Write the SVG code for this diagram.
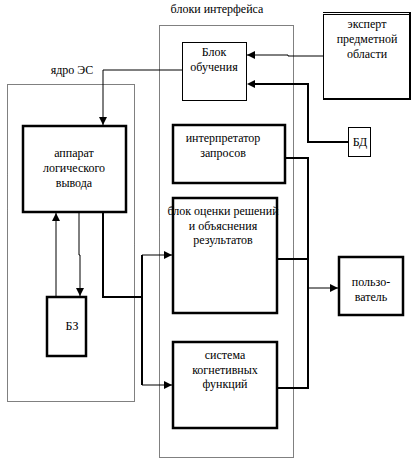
<svg xmlns="http://www.w3.org/2000/svg" width="416" height="462" viewBox="0 0 416 462">
<defs>
<style>
text{font-family:"Liberation Serif","DejaVu Serif","Times New Roman",serif;font-size:12px;fill:#000;text-anchor:middle}
.thin{fill:#fff;stroke:#000;stroke-width:1}
.thick{fill:#fff;stroke:#000;stroke-width:2.5}
.dot{fill:none;stroke:#000;stroke-width:1;stroke-dasharray:1 1}
.ln{fill:none;stroke:#000;stroke-width:1}
.lnb{fill:none;stroke:#000;stroke-width:2}
</style>
<marker id="ah" viewBox="0 0 8 8" refX="8" refY="4" markerWidth="8" markerHeight="8" markerUnits="userSpaceOnUse" orient="auto">
<path d="M0,0 L8,4 L0,8 Z" fill="#000"/>
</marker>
</defs>
<rect width="416" height="462" fill="#fff"/>
<g id="frames">
<rect class="dot" x="7.5" y="84.5" width="127" height="317"/>
<rect class="dot" x="159.5" y="25.5" width="134" height="432"/>
<text x="217" y="13" font-family="Liberation Serif, serif">блоки интерфейса</text>
<text x="72" y="74" font-family="Liberation Serif, serif">ядро ЭС</text>
</g>
<g id="connectors">
<polyline class="ln" points="182,70 103,70 103,125" marker-end="url(#ah)"/>
<polyline class="ln" points="323,56 288,56 288,55 247,55" marker-end="url(#ah)"/>
<polyline class="lnb" points="348,142 308,142 308,84 254,84"/>
<path d="M247,84 L255,80 L255,88 Z" fill="#000"/>
<line class="ln" x1="56" y1="297" x2="56" y2="213" marker-end="url(#ah)"/>
<polyline class="ln" points="79,213 79,255 80,255 80,296" marker-end="url(#ah)"/>
<polyline class="lnb" points="103,213 103,297 142,297"/>
<polyline class="lnb" points="142,255 142,385"/>
<line class="ln" x1="142" y1="255" x2="172" y2="255" marker-end="url(#ah)"/>
<line class="ln" x1="142" y1="385" x2="172" y2="385" marker-end="url(#ah)"/>
<polyline class="lnb" points="286,158 308,158 308,388 278,388"/>
<line class="lnb" x1="278" y1="259" x2="308" y2="259"/>
<line class="ln" x1="308" y1="288" x2="338" y2="288" marker-end="url(#ah)"/>
</g>
<g id="blok-obucheniya">
<rect class="thin" x="182.5" y="42.5" width="64" height="58"/>
<text x="214" y="56">Блок</text>
<text x="214" y="71">обучения</text>
</g>
<g id="ekspert">
<rect class="thin" x="323.5" y="14.5" width="87" height="85"/>
<line class="ln" x1="323" y1="12.5" x2="411" y2="12.5"/>
<line class="lnb" x1="410" y1="12" x2="410" y2="100"/>
<line class="lnb" x1="323" y1="99" x2="411" y2="99"/>
<text x="367" y="28">эксперт</text>
<text x="367" y="43">предметной</text>
<text x="367" y="58">области</text>
</g>
<g id="bd">
<rect class="thin" x="348.5" y="127.5" width="22" height="29"/>
<text x="360" y="146">БД</text>
</g>
<g id="apparat">
<rect class="thick" x="23" y="126" width="103" height="86"/>
<text x="74" y="157">аппарат</text>
<text x="74" y="172">логического</text>
<text x="74" y="187">вывода</text>
</g>
<g id="bz">
<rect class="thick" x="47" y="297" width="39" height="59"/>
<text x="72" y="330">БЗ</text>
</g>
<g id="interpretator">
<rect class="thick" x="173" y="125" width="112" height="58"/>
<text x="223" y="142">интерпретатор</text>
<text x="223" y="157">запросов</text>
</g>
<g id="blok-otsenki">
<rect class="thick" x="173" y="198" width="104" height="115"/>
<text x="223" y="215">блок оценки решений</text>
<text x="223" y="230">и объяснения</text>
<text x="223" y="244">результатов</text>
</g>
<g id="sistema">
<rect class="thick" x="173" y="342" width="104" height="86"/>
<text x="225" y="359">система</text>
<text x="225" y="374">когнетивных</text>
<text x="225" y="388">функций</text>
</g>
<g id="polzovatel">
<rect class="thick" x="339" y="257" width="64" height="58"/>
<text x="371" y="286">пользо-</text>
<text x="371" y="301">ватель</text>
</g>
</svg>
